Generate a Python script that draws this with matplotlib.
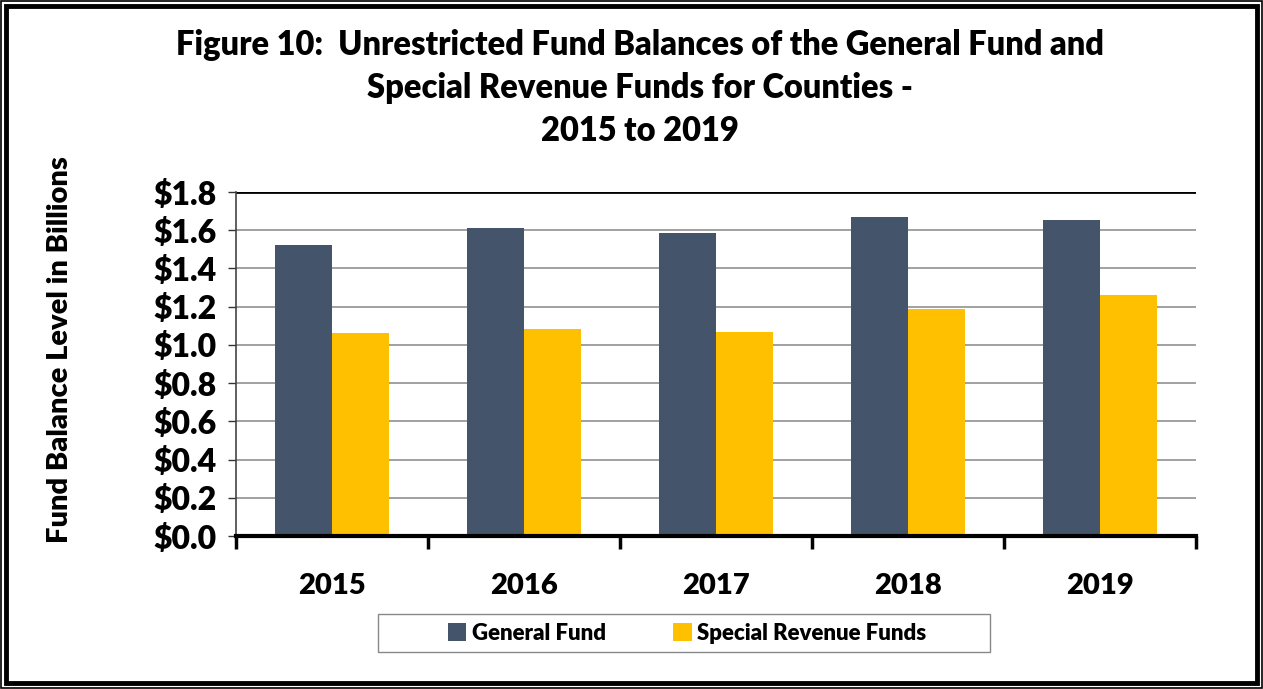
import matplotlib
matplotlib.use("Agg")
import matplotlib.pyplot as plt
import numpy as np
from matplotlib.patches import Rectangle

years = ["2015", "2016", "2017", "2018", "2019"]
general_fund = [1.523, 1.610, 1.586, 1.671, 1.654]
special_revenue = [1.062, 1.083, 1.066, 1.188, 1.260]
yticks = [0.0, 0.2, 0.4, 0.6, 0.8, 1.0, 1.2, 1.4, 1.6, 1.8]
ytick_labels = ["$0.0", "$0.2", "$0.4", "$0.6", "$0.8", "$1.0", "$1.2", "$1.4", "$1.6", "$1.8"]

plt.rcParams['font.family'] = ['Lato', 'DejaVu Sans']
W, H = 1263, 689
fig = plt.figure(figsize=(W/100, H/100), dpi=100)
ax = fig.add_axes([236/W, 1-536/H, 960/W, 344/H])

x = np.arange(len(years))
bw = 0.295
ax.bar(x - bw/2, general_fund, bw, color="#44546A", label="General Fund", zorder=3)
ax.bar(x + bw/2, special_revenue, bw, color="#FFC000", label="Special Revenue Funds", zorder=3)

ax.set_xlim(-0.5, len(years) - 0.5)
ax.set_ylim(0, 1.8)
ax.set_yticks(yticks)
ax.set_yticklabels(ytick_labels, fontsize=23, fontweight='heavy')
ax.set_xticks(x)
ax.set_xticklabels(years, fontsize=21, fontweight='heavy')
ax.set_xticks(np.arange(-0.5, len(years), 1.0), minor=True)
ax.tick_params(axis='x', which='major', length=0, pad=27)
ax.tick_params(axis='x', which='minor', length=9, width=2.5, direction='out', color='black')
ax.tick_params(axis='y', length=6, width=1, direction='out', color='#333333', pad=8)

for v in yticks[1:-1]:
    ax.axhline(v, color='#9a9a9a', lw=1.3, zorder=1)
ax.axhline(1.8, color='black', lw=2, zorder=2)

ax.spines['top'].set_visible(False)
ax.spines['right'].set_visible(False)
ax.spines['left'].set_color('#444444')
ax.spines['left'].set_linewidth(1.2)
ax.spines['bottom'].set_color('black')
ax.spines['bottom'].set_linewidth(3)
ax.spines['bottom'].set_zorder(4)

ax.set_ylabel("Fund Balance Level in Billions", fontsize=21, fontweight='heavy', labelpad=0)
ax.yaxis.set_label_coords((60 - 236)/960, (536 - 350)/344)
ax.yaxis.label.set_va('center')

title_lines = ["Figure 10:  Unrestricted Fund Balances of the General Fund and",
               "Special Revenue Funds for Counties -",
               "2015 to 2019"]
for i, t in enumerate(title_lines):
    fig.text(640/W, 1 - (45 + 43*i)/H, t, ha='center', va='center', fontsize=23.5, fontweight='heavy')

# legend box
fig.patches.append(Rectangle((378/W, 1-652/H), 612/W, 38/H, transform=fig.transFigure,
                             fill=False, edgecolor='#888888', lw=1.0))
leg = fig.legend(loc='center', bbox_to_anchor=(687/W, 1-633/H), ncol=2,
                 prop={'weight': 'heavy', 'size': 16}, frameon=False,
                 handlelength=0.85, handleheight=0.85, handletextpad=0.25,
                 columnspacing=3.0, borderpad=0.3)

# figure borders
fig.patches.append(Rectangle((1/W, 1/H), (W-2)/W, (H-2)/H, transform=fig.transFigure,
                             fill=False, edgecolor='black', lw=1.2))
fig.patches.append(Rectangle((6/W, 6/H), (W-12)/W, (H-12)/H, transform=fig.transFigure,
                             fill=False, edgecolor='black', lw=3.5))

fig.savefig("out.png", dpi=100)
